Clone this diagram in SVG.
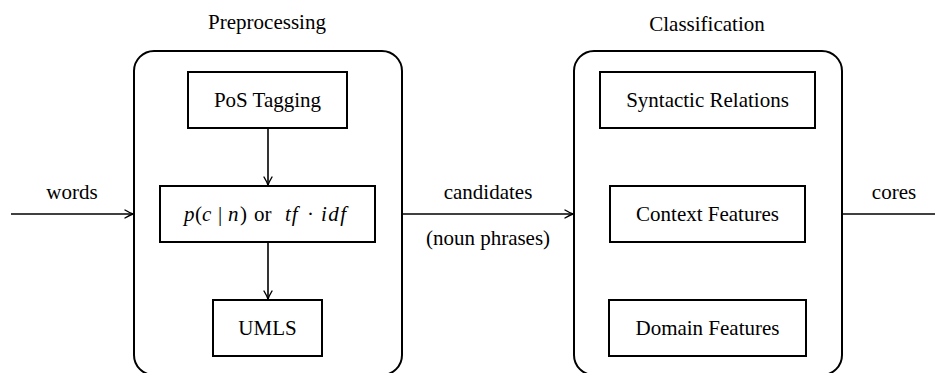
<svg xmlns="http://www.w3.org/2000/svg" width="935" height="373" viewBox="0 0 935 373">
  <style>
    text { font-family: "Liberation Serif", "Times New Roman", serif; font-size: 21px; fill: #000; text-anchor: middle; }
    .m { text-anchor: start; }
    .i { font-style: italic; }
    .group { fill: none; stroke: #000; stroke-width: 2; }
    .box { fill: #fff; stroke: #000; stroke-width: 2; }
    .edge { fill: none; stroke: #000; stroke-width: 1.6; }
  </style>
  <defs>
    <marker id="arr" viewBox="-10 -6 12 12" refX="0" refY="0" markerWidth="12" markerHeight="12" markerUnits="userSpaceOnUse" orient="auto">
      <path d="M -8 -4 Q -3 -1 0 0 Q -3 1 -8 4" fill="none" stroke="#000" stroke-width="1.4" stroke-linecap="round"/>
    </marker>
  </defs>

  <g id="preprocessing">
    <text x="267" y="29">Preprocessing</text>
    <rect class="group" x="134" y="51" width="268" height="324" rx="20" ry="20"/>
  </g>
  <g id="classification">
    <text x="707" y="31">Classification</text>
    <rect class="group" x="574" y="51" width="268" height="324" rx="20" ry="20"/>
  </g>

  <g id="connectors">
    <line class="edge" x1="11" y1="214" x2="133" y2="214" marker-end="url(#arr)"/>
    <line class="edge" x1="268" y1="128" x2="268" y2="185" marker-end="url(#arr)"/>
    <line class="edge" x1="268" y1="242" x2="268" y2="299" marker-end="url(#arr)"/>
    <line class="edge" x1="402" y1="214" x2="573" y2="214" marker-end="url(#arr)"/>
    <line class="edge" x1="842" y1="214" x2="935" y2="214"/>
    <text x="72" y="199">words</text>
    <text x="488" y="199">candidates</text>
    <text x="488" y="245">(noun phrases)</text>
    <text x="894" y="199">cores</text>
  </g>

  <g id="pos-tagging">
    <rect class="box" x="188" y="72" width="159" height="56"/>
    <text x="267.5" y="107">PoS Tagging</text>
  </g>
  <g id="scoring">
    <rect class="box" x="160" y="186" width="215" height="56"/>
    <text class="m" y="221"><tspan class="i" x="184">p</tspan><tspan x="195">(</tspan><tspan class="i" x="202">c</tspan><tspan x="218">|</tspan><tspan class="i" x="228">n</tspan><tspan x="240">)</tspan><tspan x="254">or</tspan><tspan class="i" x="285" letter-spacing="1">tf</tspan><tspan x="307">·</tspan><tspan class="i" x="321" letter-spacing="1.5">idf</tspan></text>
  </g>
  <g id="umls">
    <rect class="box" x="213" y="300" width="109" height="56"/>
    <text x="267.5" y="335">UMLS</text>
  </g>

  <g id="syntactic-relations">
    <rect class="box" x="600" y="72" width="215" height="56"/>
    <text x="707.5" y="107">Syntactic Relations</text>
  </g>
  <g id="context-features">
    <rect class="box" x="610" y="186" width="195" height="56"/>
    <text x="707.5" y="221">Context Features</text>
  </g>
  <g id="domain-features">
    <rect class="box" x="609" y="300" width="197" height="56"/>
    <text x="707.5" y="335">Domain Features</text>
  </g>
</svg>
